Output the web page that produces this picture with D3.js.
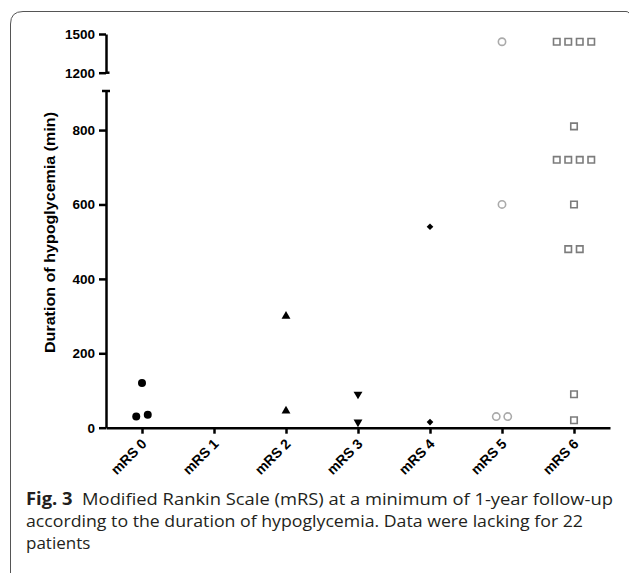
<!DOCTYPE html>
<html>
<head>
<meta charset="utf-8">
<script src="https://d3js.org/d3.v7.min.js"></script>
<style>
  body { margin: 0; background: white; }
  .axis path, .axis line { stroke: black; stroke-width: 2.5; }
  .axis text { font-family: "Liberation Sans", Arial, sans-serif; font-weight: bold; font-size: 13.5px; fill: black; }
</style>
</head>
<body>
<svg id="chart" width="629" height="573"></svg>
<script>
// data (minutes)
var categories = ["mRS 0", "mRS 1", "mRS 2", "mRS 3", "mRS 4", "mRS 5", "mRS 6"];
var mrs0 = [120, 30, 35];
var mrs1 = [];
var mrs2 = [300, 45];
var mrs3 = [90, 15];
var mrs4 = [540, 15];
var mrs5 = [1440, 600, 30, 30];
var mrs6 = [1440, 1440, 1440, 1440, 810, 720, 720, 720, 720, 600, 480, 480, 90, 20];
var lowTicks = [0, 200, 400, 600, 800];
var highTicks = [1200, 1500];
var captionLines = [
  "Modified Rankin Scale (mRS) at a minimum of 1-year follow-up",
  "according to the duration of hypoglycemia. Data were lacking for 22",
  "patients"
];

var groups = [mrs0, mrs1, mrs2, mrs3, mrs4, mrs5, mrs6];
var svg = d3.select("#chart");

// frame
svg.append("path")
  .attr("d", "M10.5,575 V24 Q10.5,11.5 23,11.5 H626 Q628,11.5 629,13")
  .attr("fill", "none")
  .attr("stroke", "#555")
  .attr("stroke-width", 1);

// scales: broken y axis
var x = d3.scalePoint().domain(categories).range([106, 610]).padding(0.5);
var yLow = d3.scaleLinear().domain([0, 905]).range([427.7, 91]);
var yHigh = d3.scaleLinear().domain([1200, 1500]).range([72.7, 34]);
function y(v) { return v <= 905 ? yLow(v) : yHigh(v); }

// y axes
svg.append("g").attr("class", "axis")
  .attr("transform", "translate(106,0)")
  .call(d3.axisLeft(yLow).tickValues(lowTicks).tickFormat(d3.format("d")).tickSize(7).tickSizeOuter(0).tickPadding(4));
svg.append("g").attr("class", "axis")
  .attr("transform", "translate(106,0)")
  .call(d3.axisLeft(yHigh).tickValues(highTicks).tickFormat(d3.format("d")).tickSize(7).tickSizeOuter(0).tickPadding(4));

// break caps
svg.append("line").attr("x1", 102).attr("x2", 110).attr("y1", yLow(905)).attr("y2", yLow(905))
  .attr("stroke", "black").attr("stroke-width", 2.5);
svg.append("line").attr("x1", 106).attr("x2", 109.5).attr("y1", yHigh(1200)).attr("y2", yHigh(1200))
  .attr("stroke", "black").attr("stroke-width", 2.5);

// x axis
var xAxis = svg.append("g").attr("class", "axis")
  .attr("transform", "translate(0," + yLow(0) + ")")
  .call(d3.axisBottom(x).tickSize(6).tickSizeOuter(0));
xAxis.selectAll(".tick text")
  .style("font-size", "14px")
  .attr("text-anchor", "end")
  .attr("x", 0)
  .attr("y", 0)
  .attr("dy", 0)
  .attr("transform", "translate(5,17) rotate(-45)");

// y label
svg.append("text")
  .attr("transform", "translate(55," + 232.5 + ") rotate(-90)")
  .attr("text-anchor", "middle")
  .style("font-family", "'Liberation Sans', Arial, sans-serif")
  .style("font-weight", "bold")
  .style("font-size", "15px")
  .attr("textLength", 241)
  .attr("lengthAdjust", "spacingAndGlyphs")
  .text("Duration of hypoglycemia (min)");

// markers
var styles = [
  { type: d3.symbolCircle, size: 50, fill: "black", stroke: "none", rot: 0 },
  { type: d3.symbolCircle, size: 50, fill: "black", stroke: "none", rot: 0 },
  { type: d3.symbolTriangle, size: 34, fill: "black", stroke: "none", rot: 0 },
  { type: d3.symbolTriangle, size: 34, fill: "black", stroke: "none", rot: 180 },
  { type: d3.symbolSquare, size: 22, fill: "black", stroke: "none", rot: 45 },
  { type: d3.symbolCircle, size: 42, fill: "none", stroke: "#aaaaaa", rot: 0 },
  { type: d3.symbolSquare, size: 42, fill: "none", stroke: "#7c7c7c", rot: 0 }
];

// spread points that would overlap side by side
var points = [];
groups.forEach(function(vals, gi) {
  var sorted = vals.slice().sort(function(a, b) { return a - b; });
  var clusters = [];
  sorted.forEach(function(v) {
    var last = clusters[clusters.length - 1];
    if (last && Math.abs(y(last[last.length - 1]) - y(v)) < 8) last.push(v);
    else clusters.push([v]);
  });
  clusters.forEach(function(c) {
    c.forEach(function(v, i) {
      points.push({ cat: categories[gi], gi: gi, value: v, off: (i - (c.length - 1) / 2) * 11.5 });
    });
  });
});

svg.append("g").selectAll("path")
  .data(points)
  .enter()
  .append("path")
    .attr("d", function(d) { return d3.symbol().type(styles[d.gi].type).size(styles[d.gi].size)(); })
    .attr("transform", function(d) {
      return "translate(" + (x(d.cat) + d.off) + "," + y(d.value) + ") rotate(" + styles[d.gi].rot + ")";
    })
    .attr("fill", function(d) { return styles[d.gi].fill; })
    .attr("stroke", function(d) { return styles[d.gi].stroke; })
    .attr("stroke-width", 1.6);

// caption
var cap = svg.append("g")
  .style("font-family", "'Open Sans', 'Noto Sans', sans-serif")
  .style("font-size", "17px")
  .style("fill", "#231f20");
var line1 = cap.append("text").attr("x", 26).attr("y", 505).attr("textLength", 587).attr("lengthAdjust", "spacingAndGlyphs");
line1.append("tspan").style("font-weight", "bold").text("Fig. 3");
line1.append("tspan").text("\u00a0\u00a0" + captionLines[0]);
cap.append("text").attr("x", 26).attr("y", 527).attr("textLength", 557).attr("lengthAdjust", "spacingAndGlyphs").text(captionLines[1]);
cap.append("text").attr("x", 26).attr("y", 549).text(captionLines[2]);
</script>
</body>
</html>
